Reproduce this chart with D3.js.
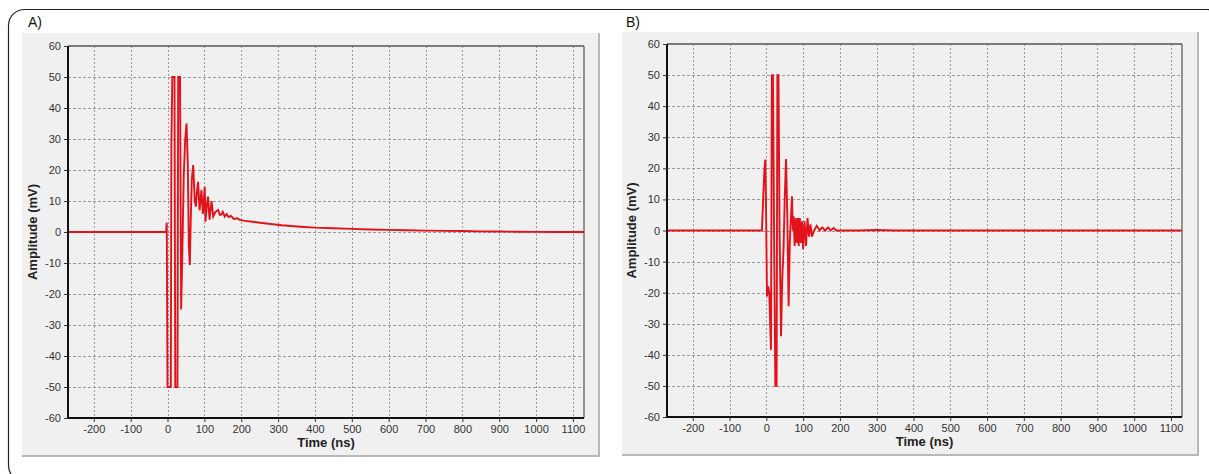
<!DOCTYPE html>
<html>
<head>
<meta charset="utf-8">
<script src="https://cdn.jsdelivr.net/npm/d3@7"></script>
<style>
  html, body { margin: 0; padding: 0; background: #ffffff; }
  svg { display: block; }
  text { font-family: "Liberation Sans", Arial, sans-serif; }
</style>
</head>
<body>
<svg id="chart" width="1209" height="474"></svg>
<script>
// ---------- data ----------
const panelLabels = ["A)", "B)"];
const xTicks = [-200, -100, 0, 100, 200, 300, 400, 500, 600, 700, 800, 900, 1000, 1100];
const yTicks = [-60, -50, -40, -30, -20, -10, 0, 10, 20, 30, 40, 50, 60];
const xDomain = [-270, 1130];
const yDomain = [-60, 60];
const xTitle = "Time (ns)";
const yTitle = "Amplitude (mV)";

// Panel A: time (ns)
const timeA = [-270, -4, -2, -1, 0, 9, 10.5, 13, 19, 21, 27, 29, 34, 37, 40, 44, 48, 51.6, 55, 58, 60.6,
  63, 66, 69.7, 74, 77, 80, 83, 87, 92, 96, 101, 103, 107, 110, 114, 119.5, 124, 130, 137.5, 142, 146,
  150, 155, 160, 166, 172, 180, 190, 196, 210, 225, 251, 280, 310, 360, 400, 450, 500, 550, 600, 650,
  700, 750, 800, 850, 900, 950, 1000, 1050, 1130];
// Panel A: amplitude (mV)
const ampA = [0, 0, 3, -25, -50, -50, 28, 50, 50, -50, -50, 50, 50, -25, -8, 18, 30, 35, 22, -5, -10.6,
  4, 17, 21.6, 10, 8.2, 13, 16.2, 7, 13.5, 5.8, 14.6, 3.3, 9, 11.4, 4, 10, 5, 6.5, 7.1, 5.5, 5.6,
  6.5, 5, 5.8, 4.8, 5.2, 4.2, 4.4, 3.9, 3.6, 3.4, 3, 2.6, 2.2, 1.7, 1.4, 1.2, 1, 0.8, 0.7, 0.55,
  0.45, 0.35, 0.3, 0.2, 0.15, 0.1, 0.05, 0, 0];

// Panel B: time (ns)
const timeB = [-270, -12, -8, -5, -2.7, -1, 1.8, 5, 8, 12.7, 15, 18, 21, 24.5, 28, 30, 33, 36, 40,
  43, 47, 50, 53.5, 57, 60.6, 64, 69.8, 72, 74, 77, 80, 83, 86, 88, 91, 94, 97, 100, 104, 108, 112,
  116, 120, 124, 130, 137, 145, 152, 160, 168, 175, 183, 190, 250, 300, 350, 1130];
// Panel B: amplitude (mV)
const ampB = [0, 0, 12, 20, 22.8, 10, -21.2, -18, -20, -38.4, 50, 50, 0, -50, -50, 50, 50, 0, -34,
  -17, -5, 10, 23, 5, -24.4, -3, 11, 0, 4.6, -5, 4, -4, 4, -5, 4, -4, 3, -6, 3, -5, 4,
  -2, 2, -2, 0, 1.5, 0, 1, 0, 1, 0, 0.8, 0, 0, 0.15, 0, 0];

const series = [
  { label: panelLabels[0], time: timeA, amp: ampA },
  { label: panelLabels[1], time: timeB, amp: ampB }
];

// ---------- layout ----------
const svg = d3.select("#chart");

// outer rounded frame
svg.append("rect")
  .attr("x", 8.5).attr("y", 9.5).attr("width", 1215).attr("height", 472)
  .attr("rx", 16).attr("ry", 16)
  .attr("fill", "none").attr("stroke", "#222").attr("stroke-width", 1.2);

const panels = [
  { bg: [22, 33, 600, 457], plot: [68, 46, 584, 418], labelX: 28, yTitleX: 37 },
  { bg: [622, 32, 1199, 456], plot: [667, 44, 1182, 417], labelX: 626, yTitleX: 636 }
];

const lineColor = "#e3121a";

panels.forEach((p, i) => {
  const s = series[i];
  const g = svg.append("g");
  const [bx0, by0, bx1, by1] = p.bg;
  // panel background with darker right/bottom edge
  g.append("rect").attr("x", bx0).attr("y", by0).attr("width", bx1 - bx0).attr("height", by1 - by0)
    .attr("fill", "#f0f0f0");
  g.append("line").attr("x1", bx1 - 1).attr("x2", bx1 - 1).attr("y1", by0).attr("y2", by1)
    .attr("stroke", "#b8b8b8").attr("stroke-width", 2);
  g.append("line").attr("x1", bx0).attr("x2", bx1).attr("y1", by1 - 1).attr("y2", by1 - 1)
    .attr("stroke", "#b8b8b8").attr("stroke-width", 2);

  // panel label
  g.append("text").attr("x", p.labelX).attr("y", 27).text(s.label)
    .attr("font-size", 14).attr("fill", "#111");

  const [px0, py0, px1, py1] = p.plot;
  const x = d3.scaleLinear().domain(xDomain).range([px0, px1]);
  const y = d3.scaleLinear().domain(yDomain).range([py1, py0]);

  // grid
  g.append("g").selectAll("line").data(yTicks.filter(t => t > yDomain[0] && t < yDomain[1]))
    .join("line")
    .attr("x1", px0).attr("x2", px1)
    .attr("y1", d => Math.round(y(d)) + 0.5).attr("y2", d => Math.round(y(d)) + 0.5)
    .attr("stroke", "#9a9a9a").attr("stroke-width", 1).attr("stroke-dasharray", "3,2");
  g.append("g").selectAll("line").data(xTicks)
    .join("line")
    .attr("y1", py0).attr("y2", py1)
    .attr("x1", d => Math.round(x(d)) + 0.5).attr("x2", d => Math.round(x(d)) + 0.5)
    .attr("stroke", "#9a9a9a").attr("stroke-width", 1).attr("stroke-dasharray", "2,2");

  // plot border top/right
  g.append("line").attr("x1", px0).attr("x2", px1).attr("y1", py0).attr("y2", py0)
    .attr("stroke", "#555").attr("stroke-width", 1.5);
  g.append("line").attr("x1", px1).attr("x2", px1).attr("y1", py0).attr("y2", py1)
    .attr("stroke", "#555").attr("stroke-width", 1.2);

  // data line
  const pts = s.time.map((t, k) => [t, s.amp[k]]);
  g.append("path").datum(pts)
    .attr("fill", "none").attr("stroke", lineColor).attr("stroke-width", 1.9)
    .attr("stroke-linejoin", "miter")
    .attr("d", d3.line().x(d => x(d[0])).y(d => y(d[1])));

  // axes
  const fmt = d => String(d);
  const yAxis = g.append("g").attr("transform", `translate(${px0},0)`)
    .call(d3.axisLeft(y).tickValues(yTicks).tickSize(4).tickPadding(3).tickFormat(fmt));
  const xAxis = g.append("g").attr("transform", `translate(0,${py1})`)
    .call(d3.axisBottom(x).tickValues(xTicks).tickSize(4).tickPadding(3).tickFormat(fmt));
  [yAxis, xAxis].forEach(ax => {
    ax.select(".domain").attr("stroke", "#111").attr("stroke-width", 2);
    ax.selectAll(".tick line").attr("stroke", "#333");
    ax.selectAll(".tick text").attr("font-size", 11).attr("fill", "#333")
      .attr("font-family", "'Liberation Sans', Arial, sans-serif");
  });
  xAxis.select(".domain").attr("d", `M${px0},0H${px1}`);
  yAxis.select(".domain").attr("d", `M0,${py0}V${py1}`);

  // titles
  g.append("text").attr("x", (px0 + px1) / 2).attr("y", py1 + 29)
    .attr("text-anchor", "middle").attr("font-size", 13).attr("font-weight", "bold")
    .attr("fill", "#222").text(xTitle);
  g.append("text")
    .attr("transform", `translate(${p.yTitleX},${(py0 + py1) / 2}) rotate(-90)`)
    .attr("text-anchor", "middle").attr("font-size", 13).attr("font-weight", "bold")
    .attr("fill", "#222").text(yTitle);
});
</script>
</body>
</html>
